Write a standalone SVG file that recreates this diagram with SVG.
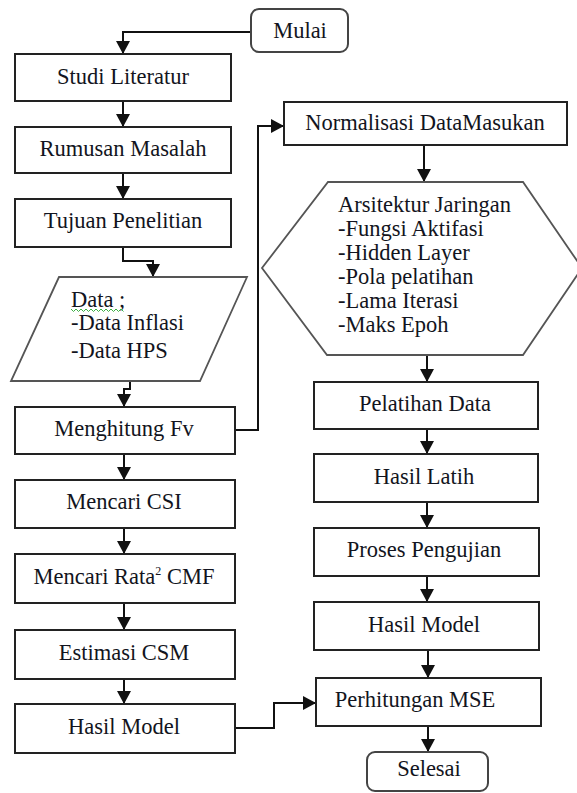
<svg xmlns="http://www.w3.org/2000/svg" width="577" height="793" viewBox="0 0 577 793" font-family="'Liberation Serif', 'DejaVu Serif', serif">
  <style>
    .box { fill: #fff; stroke: #222; stroke-width: 2; }
    .term { fill: #fff; stroke: #444; stroke-width: 2; }
    .shape { fill: #fff; stroke: #555; stroke-width: 1.8; }
    .lbl { font-family: 'Liberation Serif', 'DejaVu Serif', serif; font-size: 22.5px; fill: #121420; }
    .mid { text-anchor: middle; }
    .conn { fill: none; stroke: #111; stroke-width: 2; marker-end: url(#arrow); }
  </style>
  <defs>
    <marker id="arrow" markerUnits="userSpaceOnUse" viewBox="0 0 13 14" refX="13" refY="7" markerWidth="13" markerHeight="14" orient="auto">
      <path d="M0,0 L13,7 L0,14 z" fill="#111"/>
    </marker>
  </defs>

  <rect width="577" height="793" fill="#fff"/>

  <!-- connectors -->
  <g id="connectors">
    <path class="conn" d="M251,32 H123 V54"/>
    <path class="conn" d="M123,101 V127"/>
    <path class="conn" d="M123,173 V199"/>
    <path class="conn" d="M123,247 V261 H153 V277"/>
    <path class="conn" d="M130,381 V389 H124 V407"/>
    <path class="conn" d="M235,430 H258 V126 H284"/>
    <path class="conn" d="M124,454 V480"/>
    <path class="conn" d="M124,528 V554"/>
    <path class="conn" d="M124,603 V630"/>
    <path class="conn" d="M124,679 V704"/>
    <path class="conn" d="M235,728 H274 V703 H316"/>
    <path class="conn" d="M424,145 V182"/>
    <path class="conn" d="M427,355 V382"/>
    <path class="conn" d="M427,429 V454"/>
    <path class="conn" d="M427,502 V528"/>
    <path class="conn" d="M427,576 V602"/>
    <path class="conn" d="M428,650 V678"/>
    <path class="conn" d="M428,726 V752"/>
  </g>

  <!-- left column -->
  <g id="mulai">
    <rect class="term" x="251" y="9" width="97" height="43" rx="8"/>
    <text class="lbl mid" x="300" y="38">Mulai</text>
  </g>
  <g id="studi-literatur">
    <rect class="box" x="15" y="54" width="216" height="47"/>
    <text class="lbl mid" x="123" y="84">Studi Literatur</text>
  </g>
  <g id="rumusan-masalah">
    <rect class="box" x="15" y="127" width="216" height="46"/>
    <text class="lbl mid" x="123" y="156">Rumusan Masalah</text>
  </g>
  <g id="tujuan-penelitian">
    <rect class="box" x="15" y="199" width="216" height="48"/>
    <text class="lbl mid" x="123" y="228">Tujuan Penelitian</text>
  </g>
  <g id="data">
    <polygon class="shape" points="59,277 247,277 200,381 11,381"/>
    <text class="lbl" x="71" y="307">Data ;</text>
    <path d="M71,309 l2.5,2.5 l2.5,-2.5 l2.5,2.5 l2.5,-2.5 l2.5,2.5 l2.5,-2.5 l2.5,2.5 l2.5,-2.5 l2.5,2.5 l2.5,-2.5 l2.5,2.5 l2.5,-2.5 l2.5,2.5 l2.5,-2.5 l2.5,2.5 l2.5,-2.5 l2.5,2.5 l2.5,-2.5 l2.5,2.5 l2.5,-2.5 l2.5,2.5" fill="none" stroke="#3cb043" stroke-width="1"/>
    <text class="lbl" x="71" y="330">-Data Inflasi</text>
    <text class="lbl" x="71" y="358">-Data HPS</text>
  </g>
  <g id="menghitung-fv">
    <rect class="box" x="15" y="407" width="220" height="47"/>
    <text class="lbl mid" x="124" y="436">Menghitung Fv</text>
  </g>
  <g id="mencari-csi">
    <rect class="box" x="15" y="480" width="220" height="48"/>
    <text class="lbl mid" x="124" y="509">Mencari CSI</text>
  </g>
  <g id="mencari-rata-cmf">
    <rect class="box" x="15" y="554" width="220" height="49"/>
    <text class="lbl mid" x="124" y="584">Mencari Rata<tspan font-size="12" dy="-9">2</tspan><tspan dy="9"> CMF</tspan></text>
  </g>
  <g id="estimasi-csm">
    <rect class="box" x="15" y="630" width="220" height="49"/>
    <text class="lbl mid" x="124" y="660">Estimasi CSM</text>
  </g>
  <g id="hasil-model-kiri">
    <rect class="box" x="15" y="704" width="220" height="49"/>
    <text class="lbl mid" x="124" y="734">Hasil Model</text>
  </g>

  <!-- right column -->
  <g id="normalisasi">
    <rect class="box" x="284" y="102" width="283" height="43"/>
    <text class="lbl mid" x="425" y="130">Normalisasi DataMasukan</text>
  </g>
  <g id="arsitektur-jaringan">
    <polygon class="shape" points="328,182 523,182 582,268 523,355 327,355 262,268"/>
    <text class="lbl" x="338" y="212">Arsitektur Jaringan</text>
    <text class="lbl" x="338" y="236">-Fungsi Aktifasi</text>
    <text class="lbl" x="338" y="260">-Hidden Layer</text>
    <text class="lbl" x="338" y="284">-Pola pelatihan</text>
    <text class="lbl" x="338" y="308">-Lama Iterasi</text>
    <text class="lbl" x="338" y="332">-Maks Epoh</text>
  </g>
  <g id="pelatihan-data">
    <rect class="box" x="314" y="382" width="224" height="47"/>
    <text class="lbl mid" x="425" y="411">Pelatihan Data</text>
  </g>
  <g id="hasil-latih">
    <rect class="box" x="314" y="454" width="224" height="48"/>
    <text class="lbl mid" x="424" y="484">Hasil Latih</text>
  </g>
  <g id="proses-pengujian">
    <rect class="box" x="314" y="528" width="225" height="48"/>
    <text class="lbl mid" x="424" y="557">Proses Pengujian</text>
  </g>
  <g id="hasil-model-kanan">
    <rect class="box" x="314" y="602" width="225" height="48"/>
    <text class="lbl mid" x="424" y="632">Hasil Model</text>
  </g>
  <g id="perhitungan-mse">
    <rect class="box" x="316" y="678" width="225" height="48"/>
    <text class="lbl mid" x="415" y="707">Perhitungan MSE</text>
  </g>
  <g id="selesai">
    <rect class="term" x="367" y="752" width="121" height="39" rx="8"/>
    <text class="lbl mid" x="429" y="776">Selesai</text>
  </g>
</svg>
